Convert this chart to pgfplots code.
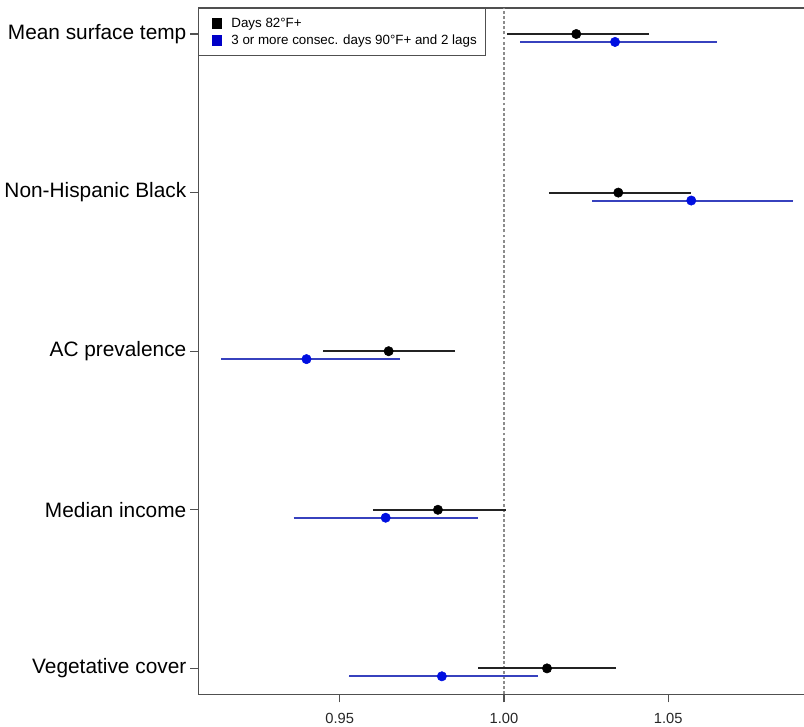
\documentclass[border=0pt]{standalone}
\usepackage{fontspec}
\setmainfont{Liberation Sans}
\usepackage{pgfplots}
\pgfplotsset{compat=1.18}
\usepackage{pgfplotstable}
\definecolor{axisgray}{RGB}{80,80,80}
\definecolor{refgray}{RGB}{140,140,140}
\definecolor{ciblack}{RGB}{35,35,35}
\definecolor{ciblue}{RGB}{55,65,190}
\definecolor{dotblue}{RGB}{0,15,225}
\definecolor{keyblue}{RGB}{0,0,200}

% y: 1 = Vegetative cover ... 5 = Mean surface temp
\pgfplotstableread{
y     est     lo      hi
5     1.0220  1.0009  1.0442
4     1.0348  1.0137  1.0570
3     0.9649  0.9448  0.9851
2     0.9799  0.9601  1.0006
1     1.0131  0.9921  1.0341
}\daysA
\pgfplotstableread{
y     est     lo      hi
4.95  1.0338  1.0049  1.0649
3.95  1.0570  1.0268  1.0881
2.95  0.9399  0.9140  0.9683
1.95  0.9640  0.9360  0.9921
0.95  0.9811  0.9527  1.0104
}\daysB

\begin{document}
\begin{tikzpicture}
\begin{axis}[
  name=ax,
  scale only axis,
  width=454.5pt, height=513.75pt,
  xmin=0.907, xmax=1.0918,
  ymin=0.836, ymax=5.164,
  tick pos=left,
  tick align=outside,
  major tick length=6pt,
  axis line style={color=axisgray, line width=1pt},
  tick style={color=axisgray, line width=0.8pt},
  xtick={0.95,1,1.05}, xticklabels={0.95,1.00,1.05},
  ytick={1,2,3,4,5},
  yticklabels={Vegetative cover, Median income, AC prevalence, Non-Hispanic Black, Mean surface temp},
  xticklabel style={font=\fontsize{11}{13}\selectfont, color=black!85, yshift=-4.5pt},
  yticklabel style={font=\fontsize{15.6}{19}\selectfont, color=black, xshift=0.5pt},
  legend style={at={(rel axis cs:0,1)}, anchor=north west, draw=axisgray, line width=0.8pt,
    fill=white, font=\fontsize{10}{12}\selectfont, inner xsep=4.5pt, inner ysep=5pt,
    row sep=0pt, cells={anchor=west}},
  legend cell align=left,
]
\addplot[refgray, dashed, line width=0.8pt, dash pattern=on 2.2pt off 1.6pt, forget plot]
  coordinates {(1,0.836) (1,5.164)};
\addplot[only marks, mark=*, mark size=3.5pt, color=black, fill=black,
  legend image code/.code={\fill[black] (5pt,-3.6pt) rectangle (12.2pt,3.6pt); \path (0pt,0pt) (17pt,0pt);},
  error bars/.cd, x dir=both, x explicit, error mark=none,
  error bar style={color=ciblack, line width=1.4pt}]
  table[x=est, y=y, x error plus expr=\thisrow{hi}-\thisrow{est},
        x error minus expr=\thisrow{est}-\thisrow{lo}] {\daysA};
\addlegendentry{Days 82°F+}
\addplot[only marks, mark=*, mark size=3.5pt, color=dotblue, fill=dotblue,
  legend image code/.code={\fill[keyblue] (5pt,-3.6pt) rectangle (12.2pt,3.6pt); \path (0pt,0pt) (17pt,0pt);},
  error bars/.cd, x dir=both, x explicit, error mark=none,
  error bar style={color=ciblue, line width=1.5pt}]
  table[x=est, y=y, x error plus expr=\thisrow{hi}-\thisrow{est},
        x error minus expr=\thisrow{est}-\thisrow{lo}] {\daysB};
\addlegendentry{3 or more consec. days 90°F+ and 2 lags}
\end{axis}
\pgfresetboundingbox
\path ([shift={(-148.5pt,6pt)}]ax.north west) ([shift={(-1.2pt,-24pt)}]ax.south east);
\end{tikzpicture}
\end{document}
